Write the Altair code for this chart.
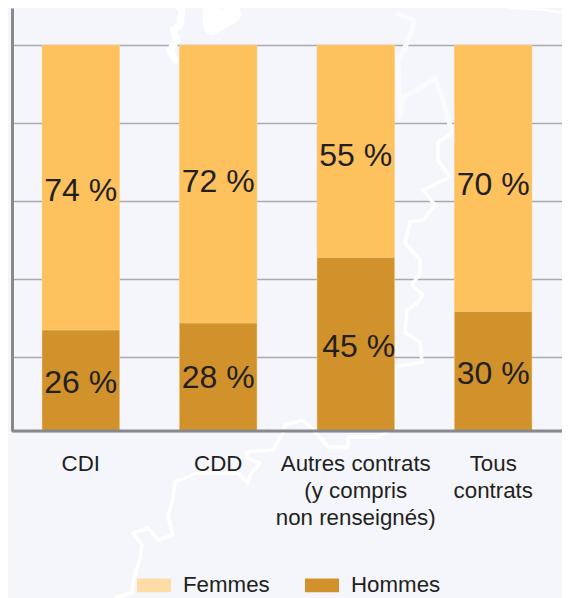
import altair as alt
import pandas as pd

categories = ["CDI", "CDD", "Autres contrats|(y compris|non renseignés)", "Tous|contrats"]
hommes = [26, 28, 45, 30]
femmes = [74, 72, 55, 70]
hommes_bar_top = [26.2, 28, 45, 31]
label_y_hommes = [12.5, 13.8, 21.8, 14.8]
label_y_femmes = [62.2, 64.6, 71.3, 63.8]
label_dx_hommes = [0, 0, 3, 0]
series = ["Femmes", "Hommes"]
bar_colors = ["#FDC15E", "#D1922C"]
legend_colors = ["#FEDCA6", "#D1922C"]
grid_values = [0, 19.2, 39.4, 59.6, 79.8, 100]
BG = "#F4F6FB"
INK = "#231F20"
FONT = "Liberation Sans"

# faint white map outline behind the chart (page pixels)
border_x = [117, 132, 133, 140, 142, 133, 148, 158, 173, 168, 173, 175, 197, 238, 248, 250, 260, 247, 247, 273, 282,
            285, 302, 312, 328, 348, 348, 378, 395, 395, 422, 420, 405, 407, 417, 423, 412, 420, 420, 405, 410, 423,
            435, 423, 450, 438, 438, 452]
border_y = [597, 593, 582, 558, 545, 533, 528, 540, 535, 517, 498, 482, 473, 473, 483, 475, 463, 458, 452, 450, 435,
            425, 420, 428, 447, 447, 437, 437, 427, 367, 362, 342, 333, 310, 303, 295, 285, 273, 260, 243, 222, 220,
            205, 190, 177, 160, 142, 133]
upper_x = [452, 447, 442, 435, 417, 403, 400, 398, 404, 412, 414, 398]
upper_y = [133, 113, 97, 78, 90, 97, 117, 60, 50, 30, 20, 14]
coast_x = [170, 182, 180, 173, 177, 170, 175]
coast_y = [0, 10, 25, 30, 40, 50, 60]
lake_x = [212, 212, 232]
lake_y = [10, 26, 14]
sea_x = [510, 545, 570]
sea_y = [8, 10, 14]

rows = []
for c, h, t, f, lh, lf, d in zip(categories, hommes, hommes_bar_top, femmes, label_y_hommes, label_y_femmes, label_dx_hommes):
    rows.append(dict(cat=c, serie="Hommes", y0=0, y1=t, ly=lh, dx=d, label=f"{h} %"))
    rows.append(dict(cat=c, serie="Femmes", y0=t, y1=100, ly=lf, dx=0, label=f"{f} %"))
df = pd.DataFrame(rows)

trace_rows = []
for part, xs, ys, w, col in [("border", border_x, border_y, 3.5, "#FFFFFF"), ("upper", upper_x, upper_y, 5, "#FAFBFD"),
                             ("coast", coast_x, coast_y, 7, "#FFFFFF"), ("lake", lake_x, lake_y, 18, "#FFFFFF"),
                             ("sea", sea_x, sea_y, 2, "#FFFFFF")]:
    for i, (a, b) in enumerate(zip(xs, ys)):
        trace_rows.append(dict(part=part, i=i, px=a, py=b, w=w, col=col))
trace_df = pd.DataFrame(trace_rows)

band = alt.Scale(domain=categories, paddingInner=0.437, paddingOuter=0.2185)
x = alt.X("cat:N", sort=categories, title=None, scale=band,
          axis=alt.Axis(ticks=False, domain=False, labelAngle=0, labelFont=FONT, labelFontSize=22.3,
                        labelColor=INK, labelPadding=21, labelLineHeight=27, labelBaseline="top",
                        labelExpr="split(datum.label, '|')", labelLimit=0))
yscale = alt.Scale(domain=[0, 109.6], nice=False, zero=False)
y = alt.Y("y1:Q", scale=yscale, title=None,
          axis=alt.Axis(values=grid_values, grid=True, gridColor="#A9AAAE", gridWidth=1.5,
                        ticks=False, labels=False, domain=True, domainColor="#88898D", domainWidth=3))

trace = alt.Chart(trace_df).mark_line(strokeJoin="round", strokeCap="round", clip=False).encode(
    x=alt.X("px:Q", scale=alt.Scale(domain=[12, 562], nice=False, zero=False), axis=None),
    y=alt.Y("py:Q", scale=alt.Scale(domain=[431, 8], nice=False, zero=False), axis=None),
    detail="part:N", order="i:Q",
    stroke=alt.Stroke("col:N", scale=None),
    strokeWidth=alt.StrokeWidth("w:Q", scale=None),
)
legend = alt.Chart(df).mark_bar().encode(
    x=x, y=y, y2="y0:Q",
    color=alt.Color("serie:N", title=None, scale=alt.Scale(domain=series, range=legend_colors),
                    legend=alt.Legend(orient="none", legendX=125, legendY=560, direction="horizontal",
                                      symbolType="M-1,-0.41H1V0.41H-1Z", symbolSize=1156, symbolOpacity=1,
                                      symbolStrokeWidth=0, labelFont=FONT, labelFontSize=22.3, labelColor=INK,
                                      labelOffset=12, columnPadding=35, labelLimit=0, padding=0)),
)
bars = alt.Chart(df).mark_bar(stroke="#FBD08A", strokeWidth=0.5).encode(
    x=alt.X("cat:N", sort=categories, scale=band),
    y=alt.Y("y1:Q", scale=yscale), y2="y0:Q",
    fill=alt.Fill("serie:N", scale=alt.Scale(domain=series, range=bar_colors), legend=None),
)
labels = alt.Chart(df).transform_filter("datum.dx == 0").mark_text(font=FONT, fontSize=32, color=INK, baseline="middle").encode(
    x=alt.X("cat:N", sort=categories), y=alt.Y("ly:Q", scale=yscale), text="label:N")
labels_shift = alt.Chart(df).transform_filter("datum.dx == 3").mark_text(font=FONT, fontSize=32, color=INK, baseline="middle", dx=3).encode(
    x=alt.X("cat:N", sort=categories), y=alt.Y("ly:Q", scale=yscale), text="label:N")
baseline = alt.Chart(pd.DataFrame({"v": [0]})).mark_rule(color="#88898D", strokeWidth=3).encode(
    y=alt.Y("v:Q", scale=yscale), x=alt.value(0), x2=alt.value(550))

main = alt.layer(legend, bars, baseline, labels, labels_shift)
chart = (alt.layer(trace, main)
         .resolve_scale(x="independent", y="independent")
         .properties(width=550, height=423, background=BG, autosize=alt.AutoSizeParams(type="none"),
                     padding={"left": 4, "top": 0, "right": 0, "bottom": 167})
         .configure_view(stroke=None))
chart.save("out.html", embed_options={"renderer": "svg", "actions": False})
